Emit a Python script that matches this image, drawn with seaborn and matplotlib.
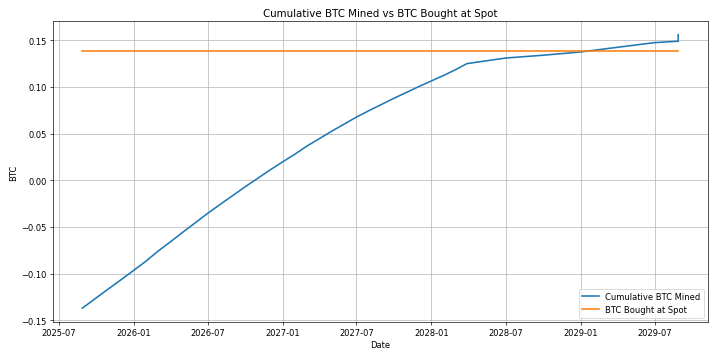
import matplotlib
matplotlib.use('Agg')
import matplotlib.pyplot as plt
import pandas as pd
import seaborn as sns

# cumulative BTC mined
mined_dates = [
    '2025-08-28', '2025-10-01', '2025-11-01', '2025-12-01', '2026-01-01',
    '2026-02-01', '2026-03-01', '2026-04-01', '2026-05-01', '2026-06-01',
    '2026-07-01', '2026-08-01', '2026-09-01', '2026-10-01', '2026-11-01',
    '2026-12-01', '2027-01-01', '2027-02-01', '2027-03-01', '2027-04-01',
    '2027-05-01', '2027-06-01', '2027-07-01', '2027-08-01', '2027-09-01',
    '2027-10-01', '2027-11-01', '2027-12-01', '2028-01-01', '2028-02-01',
    '2028-03-01', '2028-03-28', '2028-07-01', '2028-10-01', '2029-01-01',
    '2029-04-01', '2029-07-01', '2029-08-28', '2029-08-28',
]
mined_btc = [
    -0.137, -0.126, -0.116, -0.1065, -0.0965,
    -0.0863, -0.0761, -0.0659, -0.0557, -0.0455,
    -0.0355, -0.0258, -0.0163, -0.0070, 0.0021,
    0.0110, 0.0197, 0.0282, 0.0365, 0.0446,
    0.0525, 0.0602, 0.0677, 0.0747, 0.0814,
    0.0879, 0.0942, 0.1004, 0.1065, 0.1126,
    0.1187, 0.125, 0.131, 0.134, 0.1375,
    0.1425, 0.1475, 0.149, 0.156,
]

# BTC bought at spot (flat)
spot_dates = ['2025-08-28', '2029-08-28']
spot_btc = [0.138, 0.138]

mined = pd.DataFrame({'Date': pd.to_datetime(mined_dates), 'BTC': mined_btc})
spot = pd.DataFrame({'Date': pd.to_datetime(spot_dates), 'BTC': spot_btc})

fig, ax = plt.subplots(figsize=(11.95, 5.983), dpi=60)

sns.lineplot(data=mined, x='Date', y='BTC', ax=ax, estimator=None, sort=False,
             color='C0', linewidth=1.9, label='Cumulative BTC Mined')
sns.lineplot(data=spot, x='Date', y='BTC', ax=ax, estimator=None, sort=False,
             color='C1', linewidth=1.9, label='BTC Bought at Spot')

ax.set_title('Cumulative BTC Mined vs BTC Bought at Spot', fontsize=12.3)
ax.set_xlabel('Date')
ax.set_ylabel('BTC')
ax.grid(True)
ax.legend(loc='lower right')

plt.tight_layout()
plt.savefig('out.png', dpi=60)
